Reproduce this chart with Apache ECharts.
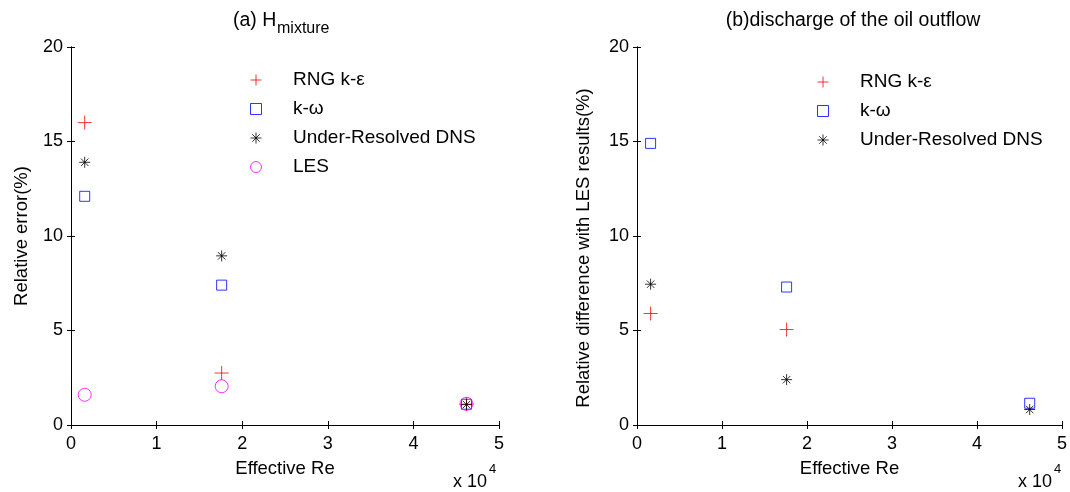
<!DOCTYPE html>
<html>
<head>
<meta charset="utf-8">
<title>Relative error and difference vs Effective Re</title>
<script src="https://cdn.jsdelivr.net/npm/echarts@6/dist/echarts.min.js"></script>
<style>
  html, body { margin: 0; padding: 0; background: #fff; }
  #chart { width: 1070px; height: 492px; }
</style>
</head>
<body>
<div id="chart"></div>
<script>
// Effective Reynolds numbers of the three cases
const effectiveRe = [1600, 17600, 46200];

// (a) relative error of H_mixture, %
const errRNG = [16.0, 2.75, 1.1];
const errKOmega = [12.1, 7.4, 1.1];
const errDNS = [13.9, 8.95, 1.08];
const errLES = [1.6, 2.05, 1.12];

// (b) relative difference of oil outflow discharge against LES, %
const diffRNG = [5.9, 5.05];
const diffKOmega = [14.9, 7.3, 1.15];
const diffDNS = [7.45, 2.4, 0.82];

const xTicks = { min: 0, max: 50000, interval: 10000 };
const yTicks = { min: 0, max: 20, interval: 5 };

const FONT = '"Liberation Sans", Arial, sans-serif';
const FS_TICK = 18;
const FS_NAME = 18.5;
const FS_LEGEND = 19;
const FS_TITLE = 19.5;

// MATLAB-like marker shapes drawn as strokes
const PLUS = 'path://M0,5H10M5,0V10';
const SQUARE = 'path://M0,0H10V10H0Z';
const STAR = 'path://M5,0V10M0,5H10M1.6,1.6L8.4,8.4M8.4,1.6L1.6,8.4';

const styles = {
  'RNG k-ε': { symbol: PLUS, size: 14, color: '#ff0000' },
  'k-ω': { symbol: SQUARE, size: 10, color: '#0000ff' },
  'Under-Resolved DNS': { symbol: STAR, size: 11, color: '#000000' },
  'LES': { symbol: 'circle', size: 13, color: '#ff00ff' }
};

function pairs(ys) {
  return ys.map((y, i) => [effectiveRe[i], y]);
}

function scatter(name, ys, axisIdx) {
  const s = styles[name];
  return {
    type: 'scatter',
    name: name,
    xAxisIndex: axisIdx,
    yAxisIndex: axisIdx,
    symbol: s.symbol,
    symbolSize: s.size,
    symbolKeepAspect: true,
    itemStyle: { color: 'rgba(0,0,0,0)', borderColor: s.color, borderWidth: 1 },
    emphasis: { disabled: true },
    silent: true,
    data: pairs(ys)
  };
}

const axisLine = { show: true, lineStyle: { color: '#000', width: 1 } };
const tick = { show: true, inside: true, length: 4, lineStyle: { color: '#000', width: 1 } };
const labelStyle = { color: '#000', fontFamily: FONT, fontSize: FS_TICK };
const nameStyle = { color: '#000', fontFamily: FONT, fontSize: FS_NAME };

function xAxes(grid) {
  return [
    {
      type: 'value', gridIndex: grid, position: 'bottom',
      min: xTicks.min, max: xTicks.max, interval: xTicks.interval,
      axisLine: axisLine, axisTick: tick, splitLine: { show: false },
      axisLabel: Object.assign({ margin: 10, formatter: v => String(v / 10000) }, labelStyle),
      name: 'Effective Re', nameLocation: 'middle', nameGap: 34,
      nameTextStyle: nameStyle
    },
    {
      type: 'value', gridIndex: grid, position: 'top',
      min: xTicks.min, max: xTicks.max, interval: xTicks.interval,
      axisLine: axisLine, axisTick: tick, splitLine: { show: false },
      axisLabel: { show: false }
    }
  ];
}

function yAxes(grid, name, gap) {
  const main = {
    type: 'value', gridIndex: grid, position: 'left',
    min: yTicks.min, max: yTicks.max, interval: yTicks.interval,
    axisLine: axisLine, axisTick: tick, splitLine: { show: false },
    axisLabel: Object.assign({ margin: 8 }, labelStyle)
  };
  if (name) {
    Object.assign(main, { name: name, nameLocation: 'middle', nameGap: gap, nameTextStyle: nameStyle });
  }
  return [
    main,
    {
      type: 'value', gridIndex: grid, position: 'right',
      min: yTicks.min, max: yTicks.max, interval: yTicks.interval,
      axisLine: axisLine, axisTick: tick, splitLine: { show: false },
      axisLabel: { show: false }
    }
  ];
}

function legend(names, left, top) {
  return {
    orient: 'vertical',
    left: left, top: top,
    padding: 0,
    itemGap: 9,
    itemWidth: 64,
    itemHeight: 11,
    selectedMode: false,
    itemStyle: { borderWidth: 1 },
    textStyle: { color: '#000', fontFamily: FONT, fontSize: FS_LEGEND, lineHeight: 20 },
    data: names
  };
}

function label(text, x, y, size, align, rotation) {
  return {
    type: 'text', x: x, y: y, rotation: rotation || 0, silent: true,
    style: { text: text, fill: '#000', fontFamily: FONT, fontSize: size, align: align || 'left', verticalAlign: 'middle' }
  };
}

const chart = echarts.init(document.getElementById('chart'), null, { renderer: 'canvas' });
chart.setOption({
  animation: false,
  backgroundColor: '#fff',
  grid: [
    { left: 71, top: 47, width: 428, height: 378 },
    { left: 637, top: 47, width: 428, height: 378 }
  ],
  xAxis: xAxes(0).concat(xAxes(1)),
  yAxis: yAxes(0, 'Relative error(%)', 40).concat(yAxes(1, null, 0)),
  legend: [
    legend(['RNG k-ε', 'k-ω', 'Under-Resolved DNS', 'LES'], 250, 70),
    legend(['RNG k-ε', 'k-ω', 'Under-Resolved DNS'], 817, 72)
  ],
  series: [
    scatter('RNG k-ε', errRNG, 0),
    scatter('k-ω', errKOmega, 0),
    scatter('Under-Resolved DNS', errDNS, 0),
    scatter('LES', errLES, 0),
    scatter('RNG k-ε', diffRNG, 2),
    scatter('k-ω', diffKOmega, 2),
    scatter('Under-Resolved DNS', diffDNS, 2)
  ],
  graphic: [
    // panel titles, (a) with a subscript
    label('(a) H', 233, 21, FS_TITLE),
    label('mixture', 277, 29, 16),
    label('(b)discharge of the oil outflow', 853, 21, FS_TITLE, 'center'),
    // y axis title of panel (b)
    label('Relative difference with LES results(%)', 584, 248, FS_NAME, 'center', Math.PI / 2),
    // axis multiplier under each x axis
    label('x 10', 453, 482, FS_TICK),
    label('4', 489, 469, 13),
    label('x 10', 1018, 482, FS_TICK),
    label('4', 1054, 469, 13)
  ]
});
</script>
</body>
</html>
